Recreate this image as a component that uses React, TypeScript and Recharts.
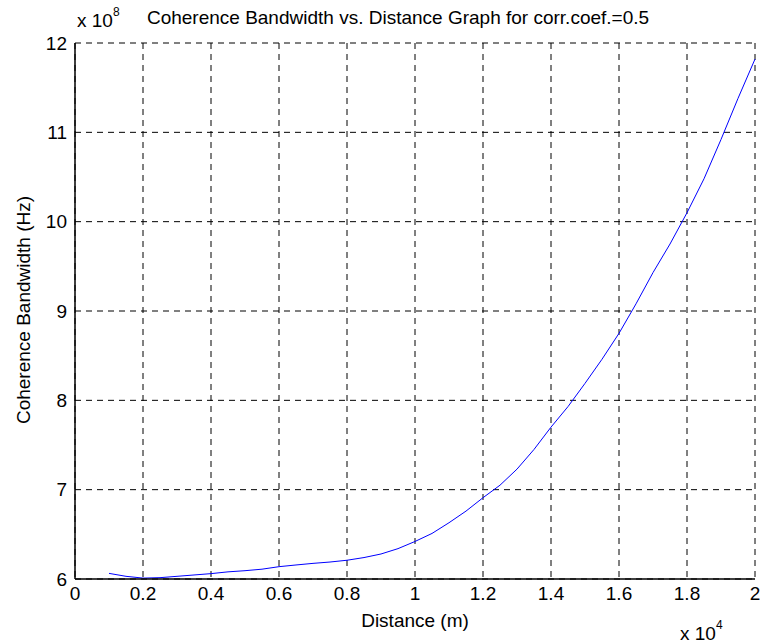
import { CartesianGrid, Line, LineChart, XAxis, YAxis } from 'recharts';

// distance in units of 1e4 m, bandwidth in units of 1e8 Hz
const distance = [
  0.1, 0.15, 0.2, 0.25, 0.3, 0.35, 0.4, 0.45, 0.5, 0.55, 0.6, 0.65, 0.7, 0.75, 0.8, 0.85, 0.9,
  0.95, 1.0, 1.05, 1.1, 1.15, 1.2, 1.25, 1.3, 1.35, 1.4, 1.45, 1.5, 1.55, 1.6, 1.65, 1.7, 1.75,
  1.8, 1.85, 1.9, 1.95, 2.0,
];
const bandwidth = [
  6.063, 6.03, 6.01, 6.015, 6.03, 6.045, 6.06, 6.08, 6.093, 6.11, 6.138, 6.157, 6.175, 6.19,
  6.21, 6.24, 6.28, 6.34, 6.42, 6.51, 6.63, 6.76, 6.91, 7.05, 7.23, 7.45, 7.7, 7.93, 8.19, 8.46,
  8.75, 9.08, 9.43, 9.75, 10.1, 10.48, 10.92, 11.38, 11.82,
];
const xTicks = [0, 0.2, 0.4, 0.6, 0.8, 1, 1.2, 1.4, 1.6, 1.8, 2];
const yTicks = [6, 7, 8, 9, 10, 11, 12];

const data = distance.map((d, i) => ({ d, bw: bandwidth[i] }));

const FONT = '"Liberation Sans", Arial, sans-serif';
const tickStyle = { fontSize: 19, fill: '#000', fontFamily: FONT };

export default function App() {
  return (
    <div style={{ position: 'absolute', left: 0, top: 0, width: 762, height: 644, background: '#fff' }}>
      <LineChart
        width={762}
        height={644}
        data={data}
        margin={{ top: 43, right: 7, bottom: 35, left: 0 }}
      >
        <CartesianGrid
          xAxisId="b"
          yAxisId="l"
          stroke="#000"
          strokeDasharray="6 5"
          strokeWidth={1}
        />
        <XAxis
          xAxisId="b"
          dataKey="d"
          type="number"
          domain={[0, 2]}
          ticks={xTicks}
          tick={tickStyle}
          tickLine={false}
          axisLine={{ stroke: '#000', strokeWidth: 1.5 }}
          height={30}
        />
        <XAxis
          xAxisId="t"
          orientation="top"
          dataKey="d"
          type="number"
          domain={[0, 2]}
          ticks={xTicks}
          tick={false}
          tickLine={false}
          axisLine={{ stroke: '#000', strokeWidth: 1 }}
          height={0}
        />
        <YAxis
          yAxisId="l"
          type="number"
          domain={[6, 12]}
          ticks={yTicks}
          tick={tickStyle}
          tickLine={false}
          axisLine={{ stroke: '#000', strokeWidth: 1.5 }}
          width={75}
        />
        <YAxis
          yAxisId="r"
          orientation="right"
          type="number"
          domain={[6, 12]}
          ticks={yTicks}
          tick={false}
          tickLine={false}
          axisLine={{ stroke: '#000', strokeWidth: 1.5 }}
          width={0}
        />
        <Line
          xAxisId="b"
          yAxisId="l"
          type="linear"
          dataKey="bw"
          stroke="#0000ff"
          strokeWidth={1}
          dot={false}
          isAnimationActive={false}
        />
      </LineChart>
      <svg
        width={762}
        height={644}
        style={{ position: 'absolute', left: 0, top: 0, pointerEvents: 'none' }}
        fontFamily={FONT}
        fill="#000"
      >
        <text x={398} y={24} fontSize={19} textAnchor="middle">
          Coherence Bandwidth vs. Distance Graph for corr.coef.=0.5
        </text>
        <text x={77} y={27} fontSize={19}>
          x 10
          <tspan fontSize={12} dy={-11}>8</tspan>
        </text>
        <text x={415} y={627} fontSize={19} textAnchor="middle">
          Distance (m)
        </text>
        <text x={680} y={640} fontSize={19}>
          x 10
          <tspan fontSize={12} dy={-11}>4</tspan>
        </text>
        <text
          x={30}
          y={310}
          fontSize={19}
          textAnchor="middle"
          transform="rotate(-90 30 310)"
        >
          Coherence Bandwidth (Hz)
        </text>
      </svg>
    </div>
  );
}
